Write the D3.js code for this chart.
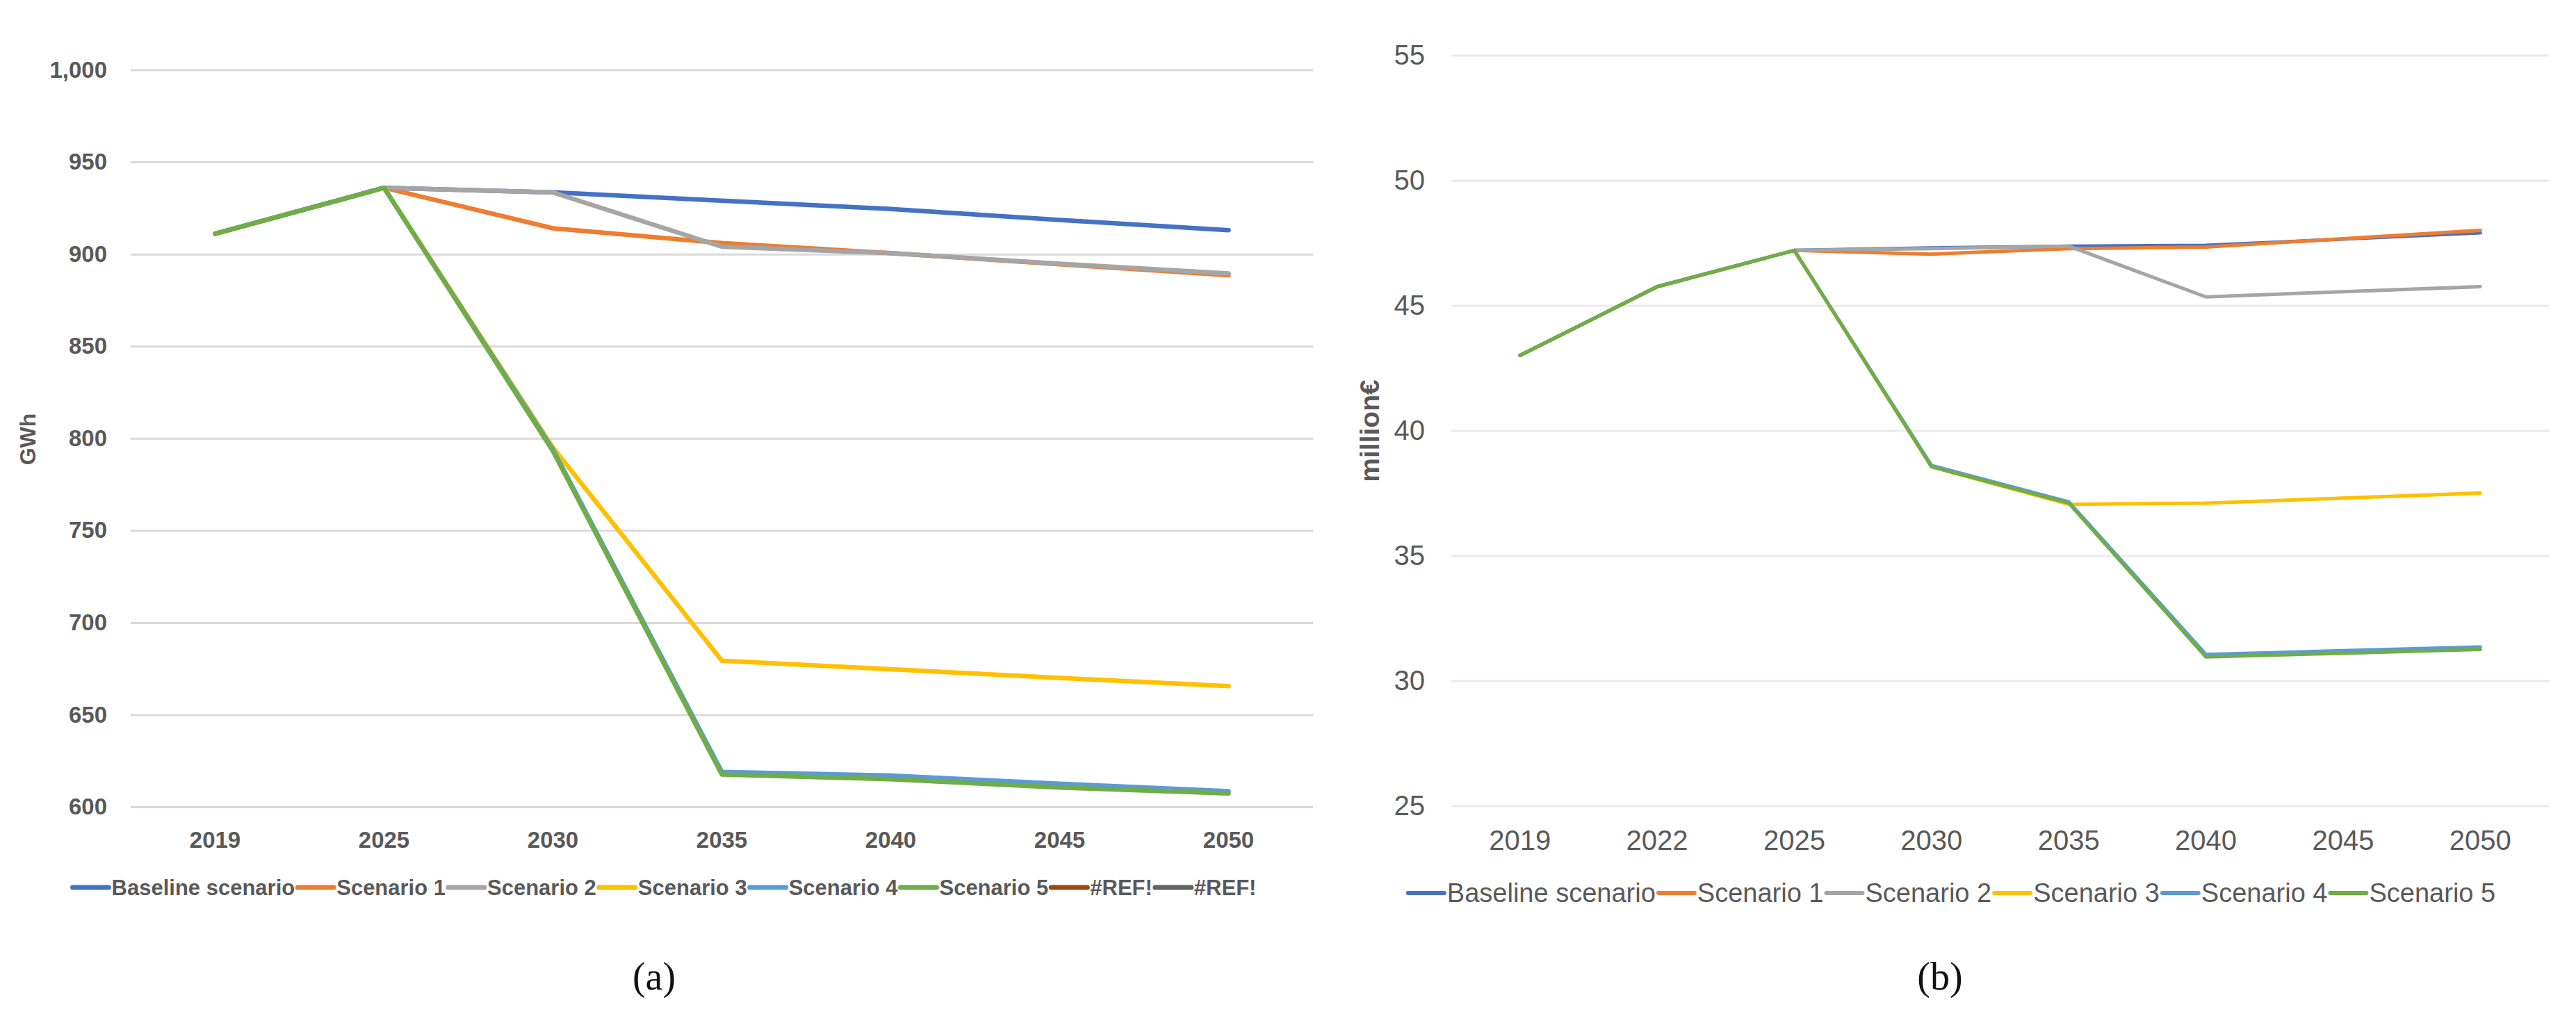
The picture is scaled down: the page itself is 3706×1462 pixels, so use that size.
<!DOCTYPE html>
<html>
<head>
<meta charset="utf-8">
<script src="https://cdn.jsdelivr.net/npm/d3@7"></script>
<style>
  body { margin: 0; background: #fff; }
  svg text { font-family: "Liberation Sans", Arial, sans-serif; }
</style>
</head>
<body>
<svg id="chart" width="3706" height="1462"></svg>
<script>
// ---- panel (a): electricity, GWh ----
const yearsA = ["2019", "2025", "2030", "2035", "2040", "2045", "2050"];
const baselineA = [911, 936, 933.5, 929, 924.5, 918.5, 913];
const scenario1A = [911, 936, 914, 906, 900.5, 894.5, 888.5];
const scenario2A = [911, 936, 933.5, 904, 900.5, 894.8, 889.5];
const scenario3A = [911, 936, 795, 679.3, 674.7, 670, 665.5];
const scenario4A = [911, 936, 794, 619, 617, 612.5, 608.5];
const scenario5A = [911, 936, 793, 617.5, 615, 610.5, 607.3];
const ticksA = [600, 650, 700, 750, 800, 850, 900, 950, 1000];
const namesA = ["Baseline scenario", "Scenario 1", "Scenario 2", "Scenario 3", "Scenario 4", "Scenario 5", "#REF!", "#REF!"];

// ---- panel (b): cost, million € ----
const yearsB = ["2019", "2022", "2025", "2030", "2035", "2040", "2045", "2050"];
const baselineB = [43, 45.75, 47.2, 47.3, 47.37, 47.4, 47.65, 47.9];
const scenario1B = [43, 45.75, 47.2, 47.05, 47.27, 47.33, 47.67, 48.0];
const scenario2B = [43, 45.75, 47.2, 47.27, 47.37, 45.34, 45.55, 45.75];
const scenario3B = [43, 45.75, 47.2, 38.55, 37.05, 37.1, 37.3, 37.5];
const scenario4B = [43, 45.75, 47.2, 38.6, 37.15, 31.05, 31.2, 31.35];
const scenario5B = [43, 45.75, 47.2, 38.55, 37.1, 30.95, 31.1, 31.25];
const ticksB = [25, 30, 35, 40, 45, 50, 55];
const namesB = ["Baseline scenario", "Scenario 1", "Scenario 2", "Scenario 3", "Scenario 4", "Scenario 5"];

const colors = ["#4472C4", "#ED7D31", "#A5A5A5", "#FFC000", "#5B9BD5", "#70AD47", "#9E480E", "#636363"];

const svg = d3.select("#chart");

function drawPanel(cfg) {
  const g = svg.append("g");
  const x = d3.scaleBand().domain(cfg.years).range(cfg.xRange).padding(0);
  const y = d3.scaleLinear().domain(cfg.yDomain).range(cfg.yRange);

  // gridlines + y labels
  const yAxis = g.append("g")
    .attr("transform", "translate(" + cfg.xRange[0] + ",0)")
    .call(d3.axisLeft(y).tickValues(cfg.ticks).tickFormat(cfg.fmt)
      .tickSize(-(cfg.xRange[1] - cfg.xRange[0])).tickPadding(cfg.pad));
  yAxis.select(".domain").remove();
  yAxis.selectAll("line").attr("stroke", cfg.gridColor).attr("stroke-width", 3);
  yAxis.selectAll("text")
    .style("font-size", cfg.tickSize + "px")
    .style("font-weight", cfg.weight)
    .attr("fill", cfg.textColor);

  // x labels
  const xAxis = g.append("g")
    .attr("transform", "translate(0," + cfg.yRange[0] + ")")
    .call(d3.axisBottom(x).tickSize(0));
  xAxis.select(".domain").remove();
  xAxis.selectAll("text")
    .attr("y", cfg.xLabelOffset)
    .attr("dy", "0.35em")
    .style("font-size", cfg.tickSize + "px")
    .style("font-weight", cfg.weight)
    .attr("fill", cfg.textColor);

  // series lines
  const line = d3.line()
    .x((d, i) => x(cfg.years[i]) + x.bandwidth() / 2)
    .y(d => y(d));
  g.selectAll("path.series")
    .data(cfg.series)
    .enter()
    .append("path")
    .attr("class", "series")
    .attr("d", d => line(d))
    .attr("fill", "none")
    .attr("stroke", (d, i) => colors[i])
    .attr("stroke-width", cfg.lineWidth)
    .attr("stroke-linejoin", "round")
    .attr("stroke-linecap", "round");

  // y axis title
  g.append("text")
    .attr("transform", "translate(" + cfg.titleX + "," + cfg.titleY + ") rotate(-90)")
    .attr("text-anchor", "middle")
    .attr("dy", "0.35em")
    .style("font-size", cfg.titleSize + "px")
    .style("font-weight", "bold")
    .attr("fill", cfg.textColor)
    .text(cfg.title);

  // legend, centred under the plot
  const leg = g.append("g");
  const items = leg.selectAll("g.item")
    .data(cfg.names)
    .enter()
    .append("g")
    .attr("class", "item");
  items.append("line")
    .attr("x1", 0).attr("x2", cfg.symLen)
    .attr("y1", 0).attr("y2", 0)
    .attr("stroke", (d, i) => colors[i])
    .attr("stroke-width", cfg.symWidth)
    .attr("stroke-linecap", "round");
  items.append("text")
    .attr("x", cfg.symLen + 4)
    .attr("dy", "0.35em")
    .style("font-size", cfg.legendSize + "px")
    .style("font-weight", cfg.weight)
    .attr("fill", cfg.textColor)
    .text(d => d);
  let cursor = 0;
  items.each(function () {
    const w = d3.select(this).select("text").node().getComputedTextLength();
    d3.select(this).attr("transform", "translate(" + cursor + ",0)");
    cursor += cfg.symLen + 4 + w + 4;
  });
  leg.attr("transform", "translate(" + (cfg.legendCx - cursor / 2) + "," + cfg.legendY + ")");

  // sub-figure caption
  g.append("text")
    .attr("x", cfg.captionX)
    .attr("y", 1404)
    .attr("dy", "0.35em")
    .attr("text-anchor", "middle")
    .style("font-family", "'Liberation Serif', 'DejaVu Serif', serif")
    .style("font-size", "56px")
    .attr("fill", "#111")
    .text(cfg.caption);
}

drawPanel({
  years: yearsA,
  series: [baselineA, scenario1A, scenario2A, scenario3A, scenario4A, scenario5A],
  names: namesA,
  ticks: ticksA,
  fmt: d3.format(","),
  xRange: [188, 1889],
  yDomain: [600, 1000],
  yRange: [1161, 100.5],
  pad: 34,
  gridColor: "#D9D9D9",
  textColor: "#595959",
  weight: "bold",
  tickSize: 33,
  legendSize: 31,
  lineWidth: 6.5,
  xLabelOffset: 47,
  title: "GWh",
  titleX: 40,
  titleY: 632,
  titleSize: 32,
  symLen: 52,
  symWidth: 7,
  legendCx: 958,
  legendY: 1277,
  captionX: 941,
  caption: "(a)"
});

drawPanel({
  years: yearsB,
  series: [baselineB, scenario1B, scenario2B, scenario3B, scenario4B, scenario5B],
  names: namesB,
  ticks: ticksB,
  fmt: d3.format("d"),
  xRange: [2088, 3667],
  yDomain: [25, 55],
  yRange: [1159.5, 79.5],
  pad: 38,
  gridColor: "#EBEBEB",
  textColor: "#595959",
  weight: "normal",
  tickSize: 40,
  legendSize: 38,
  lineWidth: 5,
  xLabelOffset: 49,
  title: "million€",
  titleX: 1970,
  titleY: 620,
  titleSize: 39,
  symLen: 52,
  symWidth: 6,
  legendCx: 2810,
  legendY: 1285,
  captionX: 2791,
  caption: "(b)"
});
</script>
</body>
</html>
